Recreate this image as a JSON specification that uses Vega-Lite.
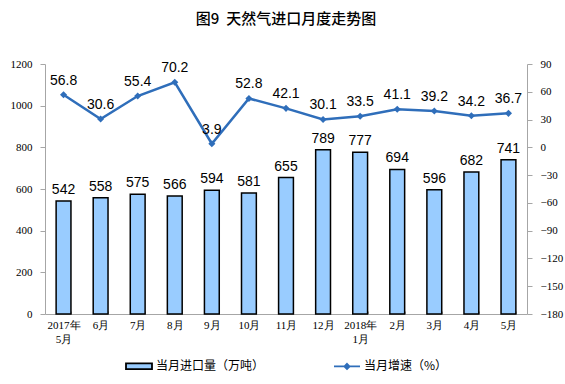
{
  "$schema": "https://vega.github.io/schema/vega-lite/v6.json",
  "autosize": {"type": "none"},
  "padding": {"left": 45, "top": 64, "right": 38, "bottom": 70},
  "width": 482,
  "height": 250,
  "background": "white",
  "title": {"text": "图9\u00a0\u00a0天然气进口月度走势图", "font": "Noto Sans CJK SC", "fontSize": 15, "fontWeight": 500, "color": "#000000", "offset": 31, "anchor": "middle"},
  "data": {"values": [
    {"month": "2017年|5月", "volume": 542, "growth": 56.8},
    {"month": "6月", "volume": 558, "growth": 30.6},
    {"month": "7月", "volume": 575, "growth": 55.4},
    {"month": "8月", "volume": 566, "growth": 70.2},
    {"month": "9月", "volume": 594, "growth": 3.9},
    {"month": "10月", "volume": 581, "growth": 52.8},
    {"month": "11月", "volume": 655, "growth": 42.1},
    {"month": "12月", "volume": 789, "growth": 30.1},
    {"month": "2018年|1月", "volume": 777, "growth": 33.5},
    {"month": "2月", "volume": 694, "growth": 41.1},
    {"month": "3月", "volume": 596, "growth": 39.2},
    {"month": "4月", "volume": 682, "growth": 34.2},
    {"month": "5月", "volume": 741, "growth": 36.7}
  ]},
  "encoding": {
    "x": {
      "field": "month", "type": "nominal", "sort": null,
      "scale": {"paddingInner": 0.6, "paddingOuter": 0.3},
      "axis": {
        "title": null, "labelExpr": "split(datum.label, '|')", "labelAngle": 0,
        "labelFont": "Liberation Serif", "labelFontSize": 11, "labelColor": "#000000",
        "labelLineHeight": 14, "labelPadding": 8,
        "domainColor": "#A6A6A6", "tickColor": "#A6A6A6", "tickBand": "extent", "tickSize": -3
      }
    }
  },
  "layer": [
    {
      "encoding": {
        "y": {
          "field": "volume", "type": "quantitative",
          "scale": {"domain": [0, 1200], "nice": false},
          "axis": {
            "title": null, "values": [0, 200, 400, 600, 800, 1000, 1200], "format": "d", "grid": false,
            "labelFont": "Liberation Serif", "labelFontSize": 11, "labelColor": "#000000",
            "domainColor": "#A6A6A6", "tickColor": "#A6A6A6", "tickSize": 5, "labelPadding": 8
          }
        }
      },
      "layer": [
        {
          "mark": {"type": "bar", "stroke": "#000000", "strokeWidth": 1.5},
          "encoding": {
            "color": {
              "datum": "当月进口量（万吨）",
              "scale": {"domain": ["当月进口量（万吨）", "当月增速（%）"], "range": ["#99CCFF", "#2F6EBA"]},
              "legend": {
                "title": null, "orient": "none", "legendX": 80, "legendY": 288, "direction": "horizontal",
                "labelFont": "Noto Sans CJK SC", "labelFontSize": 12, "labelColor": "#000000",
                "symbolSize": 676, "columnPadding": 65, "labelOffset": 3,
                "symbolType": {"expr": "datum.value === '当月进口量（万吨）' ? 'M-1,-0.22H1V0.22H-1Z' : 'M-1,0H1M0,-0.2L0.2,0L0,0.2L-0.2,0Z'"},
                "symbolStrokeColor": {"expr": "datum.value === '当月进口量（万吨）' ? '#000000' : '#2F6EBA'"},
                "symbolFillColor": {"expr": "datum.value === '当月进口量（万吨）' ? '#99CCFF' : '#2F6EBA'"},
                "symbolStrokeWidth": 1.8,
                "symbolOpacity": 1
              }
            }
          }
        },
        {
          "mark": {"type": "text", "baseline": "bottom", "dy": -4, "font": "Liberation Sans", "fontSize": 14, "color": "#000000"},
          "encoding": {"text": {"field": "volume", "type": "quantitative"}}
        }
      ]
    },
    {
      "encoding": {
        "y": {
          "field": "growth", "type": "quantitative",
          "scale": {"domain": [-180, 90], "nice": false},
          "axis": {
            "title": null, "orient": "right", "values": [-180, -150, -120, -90, -60, -30, 0, 30, 60, 90], "grid": false,
            "labelFont": "Liberation Serif", "labelFontSize": 11, "labelColor": "#000000",
            "domainColor": "#A6A6A6", "tickColor": "#A6A6A6", "tickSize": 5, "labelPadding": 8
          }
        }
      },
      "layer": [
        {
          "mark": {"type": "line", "color": "#2F6EBA", "strokeWidth": 2.5},
          "encoding": {}
        },
        {
          "mark": {"type": "point", "shape": "diamond", "filled": true, "color": "#2F6EBA", "size": 50, "opacity": 1},
          "encoding": {}
        },
        {
          "mark": {"type": "text", "baseline": "bottom", "dy": -7, "font": "Liberation Sans", "fontSize": 14, "color": "#000000"},
          "encoding": {"text": {"field": "growth", "type": "quantitative", "format": ".1f"}}
        }
      ]
    }
  ],
  "resolve": {"scale": {"y": "independent"}},
  "config": {"view": {"stroke": null}}
}
